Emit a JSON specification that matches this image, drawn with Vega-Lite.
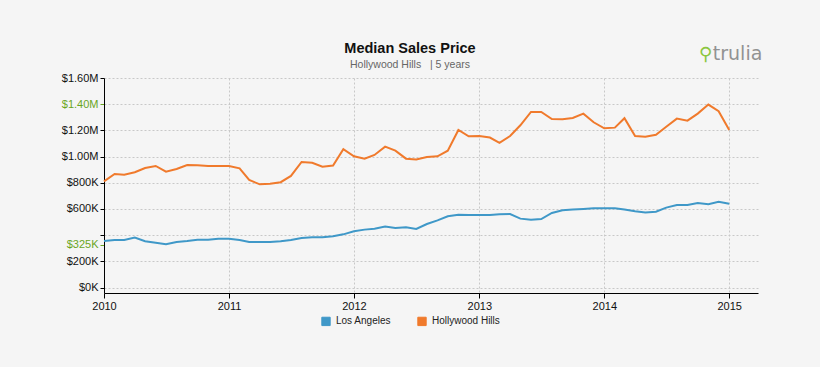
{
  "$schema": "https://vega.github.io/schema/vega-lite/v6.json",
  "width": 654,
  "height": 215,
  "autosize": {"type": "none"},
  "padding": {"left": 104, "top": 78, "right": 62, "bottom": 74},
  "background": "#f5f5f5",
  "config": {"view": {"stroke": null}, "font": "Liberation Sans"},
  "title": {
    "text": "Median Sales Price",
    "subtitle": "Hollywood Hills\u00a0\u00a0\u00a0| 5 years",
    "anchor": "middle",
    "dx": -21,
    "fontSize": 14.5,
    "fontWeight": "bold",
    "color": "#111111",
    "font": "Liberation Sans",
    "subtitleFont": "Liberation Sans",
    "subtitleFontSize": 10.5,
    "subtitleColor": "#666666",
    "subtitlePadding": 3,
    "offset": -26
  },
  "datasets": {
    "prices": [
      {"date": "2010-01-01", "region": "Los Angeles", "price": 355000},
      {"date": "2010-02-01", "region": "Los Angeles", "price": 363000},
      {"date": "2010-03-01", "region": "Los Angeles", "price": 363000},
      {"date": "2010-04-01", "region": "Los Angeles", "price": 381000},
      {"date": "2010-05-01", "region": "Los Angeles", "price": 353000},
      {"date": "2010-06-01", "region": "Los Angeles", "price": 342000},
      {"date": "2010-07-01", "region": "Los Angeles", "price": 330000},
      {"date": "2010-08-01", "region": "Los Angeles", "price": 348000},
      {"date": "2010-09-01", "region": "Los Angeles", "price": 355000},
      {"date": "2010-10-01", "region": "Los Angeles", "price": 365000},
      {"date": "2010-11-01", "region": "Los Angeles", "price": 365000},
      {"date": "2010-12-01", "region": "Los Angeles", "price": 373000},
      {"date": "2011-01-01", "region": "Los Angeles", "price": 373000},
      {"date": "2011-02-01", "region": "Los Angeles", "price": 363000},
      {"date": "2011-03-01", "region": "Los Angeles", "price": 348000},
      {"date": "2011-04-01", "region": "Los Angeles", "price": 348000},
      {"date": "2011-05-01", "region": "Los Angeles", "price": 348000},
      {"date": "2011-06-01", "region": "Los Angeles", "price": 353000},
      {"date": "2011-07-01", "region": "Los Angeles", "price": 363000},
      {"date": "2011-08-01", "region": "Los Angeles", "price": 378000},
      {"date": "2011-09-01", "region": "Los Angeles", "price": 383000},
      {"date": "2011-10-01", "region": "Los Angeles", "price": 383000},
      {"date": "2011-11-01", "region": "Los Angeles", "price": 391000},
      {"date": "2011-12-01", "region": "Los Angeles", "price": 406000},
      {"date": "2012-01-01", "region": "Los Angeles", "price": 429000},
      {"date": "2012-02-01", "region": "Los Angeles", "price": 442000},
      {"date": "2012-03-01", "region": "Los Angeles", "price": 449000},
      {"date": "2012-04-01", "region": "Los Angeles", "price": 465000},
      {"date": "2012-05-01", "region": "Los Angeles", "price": 455000},
      {"date": "2012-06-01", "region": "Los Angeles", "price": 460000},
      {"date": "2012-07-01", "region": "Los Angeles", "price": 447000},
      {"date": "2012-08-01", "region": "Los Angeles", "price": 485000},
      {"date": "2012-09-01", "region": "Los Angeles", "price": 513000},
      {"date": "2012-10-01", "region": "Los Angeles", "price": 544000},
      {"date": "2012-11-01", "region": "Los Angeles", "price": 556000},
      {"date": "2012-12-01", "region": "Los Angeles", "price": 554000},
      {"date": "2013-01-01", "region": "Los Angeles", "price": 554000},
      {"date": "2013-02-01", "region": "Los Angeles", "price": 554000},
      {"date": "2013-03-01", "region": "Los Angeles", "price": 559000},
      {"date": "2013-04-01", "region": "Los Angeles", "price": 561000},
      {"date": "2013-05-01", "region": "Los Angeles", "price": 526000},
      {"date": "2013-06-01", "region": "Los Angeles", "price": 518000},
      {"date": "2013-07-01", "region": "Los Angeles", "price": 523000},
      {"date": "2013-08-01", "region": "Los Angeles", "price": 569000},
      {"date": "2013-09-01", "region": "Los Angeles", "price": 590000},
      {"date": "2013-10-01", "region": "Los Angeles", "price": 595000},
      {"date": "2013-11-01", "region": "Los Angeles", "price": 600000},
      {"date": "2013-12-01", "region": "Los Angeles", "price": 605000},
      {"date": "2014-01-01", "region": "Los Angeles", "price": 605000},
      {"date": "2014-02-01", "region": "Los Angeles", "price": 605000},
      {"date": "2014-03-01", "region": "Los Angeles", "price": 595000},
      {"date": "2014-04-01", "region": "Los Angeles", "price": 582000},
      {"date": "2014-05-01", "region": "Los Angeles", "price": 572000},
      {"date": "2014-06-01", "region": "Los Angeles", "price": 579000},
      {"date": "2014-07-01", "region": "Los Angeles", "price": 610000},
      {"date": "2014-08-01", "region": "Los Angeles", "price": 630000},
      {"date": "2014-09-01", "region": "Los Angeles", "price": 630000},
      {"date": "2014-10-01", "region": "Los Angeles", "price": 645000},
      {"date": "2014-11-01", "region": "Los Angeles", "price": 636000},
      {"date": "2014-12-01", "region": "Los Angeles", "price": 655000},
      {"date": "2015-01-01", "region": "Los Angeles", "price": 640000},
      {"date": "2010-01-01", "region": "Hollywood Hills", "price": 810000},
      {"date": "2010-02-01", "region": "Hollywood Hills", "price": 867000},
      {"date": "2010-03-01", "region": "Hollywood Hills", "price": 862000},
      {"date": "2010-04-01", "region": "Hollywood Hills", "price": 880000},
      {"date": "2010-05-01", "region": "Hollywood Hills", "price": 913000},
      {"date": "2010-06-01", "region": "Hollywood Hills", "price": 928000},
      {"date": "2010-07-01", "region": "Hollywood Hills", "price": 885000},
      {"date": "2010-08-01", "region": "Hollywood Hills", "price": 905000},
      {"date": "2010-09-01", "region": "Hollywood Hills", "price": 936000},
      {"date": "2010-10-01", "region": "Hollywood Hills", "price": 933000},
      {"date": "2010-11-01", "region": "Hollywood Hills", "price": 928000},
      {"date": "2010-12-01", "region": "Hollywood Hills", "price": 928000},
      {"date": "2011-01-01", "region": "Hollywood Hills", "price": 928000},
      {"date": "2011-02-01", "region": "Hollywood Hills", "price": 910000},
      {"date": "2011-03-01", "region": "Hollywood Hills", "price": 821000},
      {"date": "2011-04-01", "region": "Hollywood Hills", "price": 788000},
      {"date": "2011-05-01", "region": "Hollywood Hills", "price": 793000},
      {"date": "2011-06-01", "region": "Hollywood Hills", "price": 804000},
      {"date": "2011-07-01", "region": "Hollywood Hills", "price": 852000},
      {"date": "2011-08-01", "region": "Hollywood Hills", "price": 959000},
      {"date": "2011-09-01", "region": "Hollywood Hills", "price": 953000},
      {"date": "2011-10-01", "region": "Hollywood Hills", "price": 923000},
      {"date": "2011-11-01", "region": "Hollywood Hills", "price": 931000},
      {"date": "2011-12-01", "region": "Hollywood Hills", "price": 1056000},
      {"date": "2012-01-01", "region": "Hollywood Hills", "price": 1002000},
      {"date": "2012-02-01", "region": "Hollywood Hills", "price": 984000},
      {"date": "2012-03-01", "region": "Hollywood Hills", "price": 1012000},
      {"date": "2012-04-01", "region": "Hollywood Hills", "price": 1076000},
      {"date": "2012-05-01", "region": "Hollywood Hills", "price": 1045000},
      {"date": "2012-06-01", "region": "Hollywood Hills", "price": 984000},
      {"date": "2012-07-01", "region": "Hollywood Hills", "price": 977000},
      {"date": "2012-08-01", "region": "Hollywood Hills", "price": 997000},
      {"date": "2012-09-01", "region": "Hollywood Hills", "price": 1002000},
      {"date": "2012-10-01", "region": "Hollywood Hills", "price": 1045000},
      {"date": "2012-11-01", "region": "Hollywood Hills", "price": 1203000},
      {"date": "2012-12-01", "region": "Hollywood Hills", "price": 1155000},
      {"date": "2013-01-01", "region": "Hollywood Hills", "price": 1157000},
      {"date": "2013-02-01", "region": "Hollywood Hills", "price": 1145000},
      {"date": "2013-03-01", "region": "Hollywood Hills", "price": 1104000},
      {"date": "2013-04-01", "region": "Hollywood Hills", "price": 1157000},
      {"date": "2013-05-01", "region": "Hollywood Hills", "price": 1239000},
      {"date": "2013-06-01", "region": "Hollywood Hills", "price": 1341000},
      {"date": "2013-07-01", "region": "Hollywood Hills", "price": 1341000},
      {"date": "2013-08-01", "region": "Hollywood Hills", "price": 1287000},
      {"date": "2013-09-01", "region": "Hollywood Hills", "price": 1285000},
      {"date": "2013-10-01", "region": "Hollywood Hills", "price": 1295000},
      {"date": "2013-11-01", "region": "Hollywood Hills", "price": 1328000},
      {"date": "2013-12-01", "region": "Hollywood Hills", "price": 1262000},
      {"date": "2014-01-01", "region": "Hollywood Hills", "price": 1216000},
      {"date": "2014-02-01", "region": "Hollywood Hills", "price": 1221000},
      {"date": "2014-03-01", "region": "Hollywood Hills", "price": 1293000},
      {"date": "2014-04-01", "region": "Hollywood Hills", "price": 1157000},
      {"date": "2014-05-01", "region": "Hollywood Hills", "price": 1152000},
      {"date": "2014-06-01", "region": "Hollywood Hills", "price": 1167000},
      {"date": "2014-07-01", "region": "Hollywood Hills", "price": 1228000},
      {"date": "2014-08-01", "region": "Hollywood Hills", "price": 1290000},
      {"date": "2014-09-01", "region": "Hollywood Hills", "price": 1274000},
      {"date": "2014-10-01", "region": "Hollywood Hills", "price": 1328000},
      {"date": "2014-11-01", "region": "Hollywood Hills", "price": 1397000},
      {"date": "2014-12-01", "region": "Hollywood Hills", "price": 1346000},
      {"date": "2015-01-01", "region": "Hollywood Hills", "price": 1203000}
    ],
    "logo": [{"pin": "\u26b2", "name": "trulia"}]
  },
  "layer": [
    {
      "data": {"name": "prices"},
      "mark": {"type": "line", "strokeWidth": 2},
      "encoding": {
        "x": {
          "field": "date",
          "type": "temporal",
          "scale": {
            "domain": [{"year": 2010, "month": 1, "date": 1}, {"year": 2015, "month": 3, "date": 26}],
            "nice": false
          },
          "axis": {
            "title": null,
            "values": [
              {"year": 2010, "month": 1, "date": 1},
              {"year": 2011, "month": 1, "date": 1},
              {"year": 2012, "month": 1, "date": 1},
              {"year": 2013, "month": 1, "date": 1},
              {"year": 2014, "month": 1, "date": 1},
              {"year": 2015, "month": 1, "date": 1}
            ],
            "tickCount": 20,
            "format": "%Y",
            "labelFlush": false,
            "labelFont": "'Liberation Sans Narrow', 'Liberation Sans'",
            "labelFontSize": 11,
            "labelColor": "#111111",
            "labelPadding": 2,
            "tickSize": 5,
            "tickColor": "#000000",
            "domainColor": "#000000",
            "gridColor": "#c8c8c8",
            "gridDash": [2, 2]
          }
        },
        "y": {
          "field": "price",
          "type": "quantitative",
          "scale": {"domain": [-42000, 1600000], "nice": false, "zero": false},
          "axis": {
            "title": null,
            "values": [0, 200000, 325000, 400000, 600000, 800000, 1000000, 1200000, 1400000, 1600000],
            "tickCount": 20,
            "labelExpr": "datum.value == 400000 ? '' : (datum.value < 1000000 ? '$' + format(datum.value / 1000, 'd') + 'K' : '$' + format(datum.value / 1000000, '.2f') + 'M')",
            "labelFlush": false,
            "labelOverlap": false,
            "labelFont": "Liberation Sans",
            "labelFontSize": 11,
            "labelPadding": 2,
            "labelColor": {"condition": {"test": "datum.value == 325000 || datum.value == 1400000", "value": "#6aa51f"}, "value": "#111111"},
            "tickColor": {"condition": {"test": "datum.value == 325000 || datum.value == 1400000", "value": "#6aa51f"}, "value": "#000000"},
            "tickSize": 4,
            "domainColor": "#000000",
            "gridColor": "#c8c8c8",
            "gridDash": [2, 2],
            "gridOpacity": {"condition": {"test": "datum.value == 325000", "value": 0}, "value": 1}
          }
        },
        "color": {
          "field": "region",
          "type": "nominal",
          "scale": {"domain": ["Los Angeles", "Hollywood Hills"], "range": ["#3f98c8", "#f07a2c"]},
          "legend": {
            "title": null,
            "orient": "none",
            "direction": "horizontal",
            "legendX": 217,
            "legendY": 238,
            "padding": 0,
            "symbolType": "square",
            "symbolSize": 70,
            "symbolStrokeWidth": 1,
            "labelFont": "Liberation Sans",
            "labelFontSize": 10,
            "labelColor": "#222222",
            "labelOffset": 5,
            "columnPadding": 23,
            "encode": {
              "symbols": {
                "update": {
                  "fill": {"scale": "color", "field": "value"},
                  "stroke": {"value": "#333333"},
                  "fillOpacity": {"value": 1}
                }
              }
            }
          }
        }
      }
    },
    {
      "data": {"name": "logo"},
      "mark": {"type": "text", "align": "left", "baseline": "alphabetic", "fontSize": 19, "font": "DejaVu Sans", "color": "#929292"},
      "encoding": {
        "x": {"datum": {"year": 2014, "month": 11, "date": 14}, "type": "temporal"},
        "y": {"datum": 1734000, "type": "quantitative"},
        "text": {"field": "name"}
      }
    },
    {
      "data": {"name": "logo"},
      "mark": {"type": "text", "align": "center", "baseline": "alphabetic", "fontSize": 18, "font": "DejaVu Sans", "color": "#8cc63f"},
      "encoding": {
        "x": {"datum": {"year": 2014, "month": 10, "date": 24}, "type": "temporal"},
        "y": {"datum": 1734000, "type": "quantitative"},
        "text": {"field": "pin"}
      }
    }
  ]
}
